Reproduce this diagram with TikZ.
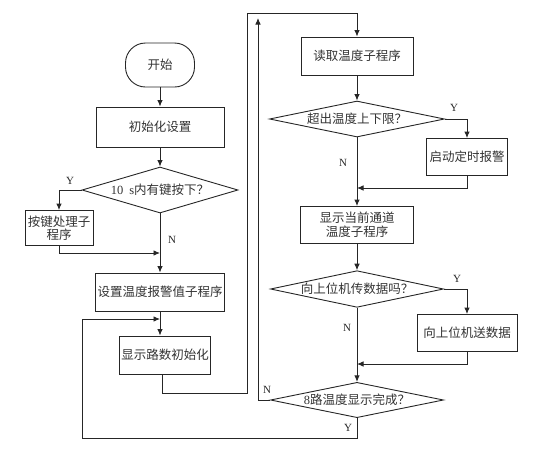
\documentclass[tikz,border=0pt]{standalone}
\usepackage{fontspec}
\setmainfont{Liberation Serif}
\newfontfamily\cjk{Noto Sans CJK SC}
\usetikzlibrary{shapes.geometric,arrows.meta}
\begin{document}
\begin{tikzpicture}[x=1pt,y=-1pt,
  line width=0.9pt, draw=black!85,
  every node/.style={font=\cjk\fontsize{12.5}{15}\selectfont, text=black!80},
  proc/.style={draw, rectangle, inner sep=0pt, align=center},
  term/.style={draw, rectangle, rounded corners=20pt, inner sep=0pt, minimum width=69pt, minimum height=44pt},
  dec/.style={draw, diamond, inner sep=0pt, shape aspect=4.5},
  lbl/.style={font=\rmfamily\fontsize{11}{13}\selectfont, text=black!85},
  arr/.style={-{Latex[length=6.5pt,width=5.5pt]}},
]
\useasboundingbox (0,0) rectangle (543,451);

% left column
\node[term] (start) at (160,65) {开始};
\node[proc, minimum width=128pt, minimum height=40pt] (init) at (160,127) {初始化设置};
\node[dec, shape aspect=3.4, minimum width=156pt, minimum height=46pt] (d1) at (160,190) {{\rmfamily 10\hspace{6pt}s}内有键按下？};
\node[proc, minimum width=68pt, minimum height=35pt, font=\cjk\fontsize{12.5}{13.5}\selectfont] (key) at (59,228) {按键处理子\\程序};
\node[proc, minimum width=129pt, minimum height=38pt] (set) at (160,292) {设置温度报警值子程序};
\node[proc, minimum width=91pt, minimum height=38pt] (disp) at (165,355) {显示路数初始化};

% right column
\node[proc, minimum width=112pt, minimum height=38pt] (read) at (357,56) {读取温度子程序};
\node[dec, minimum width=175pt, minimum height=36pt] (d2) at (357,119) {超出温度上下限？};
\node[proc, minimum width=81pt, minimum height=37pt] (alarm) at (467,157) {启动定时报警};
\node[proc, minimum width=113pt, minimum height=37pt, font=\cjk\fontsize{12.5}{14}\selectfont] (show) at (357,225) {显示当前通道\\温度子程序};
\node[dec, minimum width=173pt, minimum height=36pt] (d3) at (357,289) {向上位机传数据吗？};
\node[proc, minimum width=100pt, minimum height=37pt] (send) at (467,333) {向上位机送数据};
\node[dec, minimum width=173pt, minimum height=35pt] (d4) at (357,400) {{\rmfamily 8}路温度显示完成？};

% helper coordinates
\coordinate (j1) at (160,253);
\coordinate (j2) at (160,319);
\coordinate (lb) at (82,438);
\coordinate (a0) at (162,374);
\coordinate (a1) at (247,393);
\coordinate (a2) at (247,13);
\coordinate (b1) at (258,18);
\coordinate (j3) at (357,188);
\coordinate (j4) at (357,364);

% left connectors
\draw[arr] (start) -- (init);
\draw[arr] (init) -- (d1);
\draw[arr] (d1.west) -| (key.north);
\draw[arr] (key.south) |- (j1);
\draw[arr] (d1.south) -- (set.north);
\draw[arr] (set.south) -- (set.south |- disp.north);
\draw[arr] (d4.south) |- (lb) |- (j2);
\draw[arr] (a0) |- (a1) -- (a2) -| (read.north);
\draw[arr] (d4.west) -| (b1);

% right connectors
\draw[arr] (read) -- (d2);
\draw[arr] (d2.east) -| (alarm.north);
\draw[arr] (alarm.south) |- (j3);
\draw[arr] (d2.south) -- (show.north);
\draw[arr] (show) -- (d3);
\draw[arr] (d3.east) -| (send.north);
\draw[arr] (send.south) |- (j4);
\draw[arr] (d3.south) -- (d4.north);

% labels
\node[lbl] (yl1) at (70,181) {Y};
\node[lbl] (nl1) at (172,240) {N};
\node[lbl] (yl2) at (454,108) {Y};
\node[lbl] (nl2) at (343,163) {N};
\node[lbl] (yl3) at (457,279) {Y};
\node[lbl] (nl3) at (347,328) {N};
\node[lbl] (nl4) at (267,390) {N};
\node[lbl] (yl4) at (348,428) {Y};
\end{tikzpicture}
\end{document}
